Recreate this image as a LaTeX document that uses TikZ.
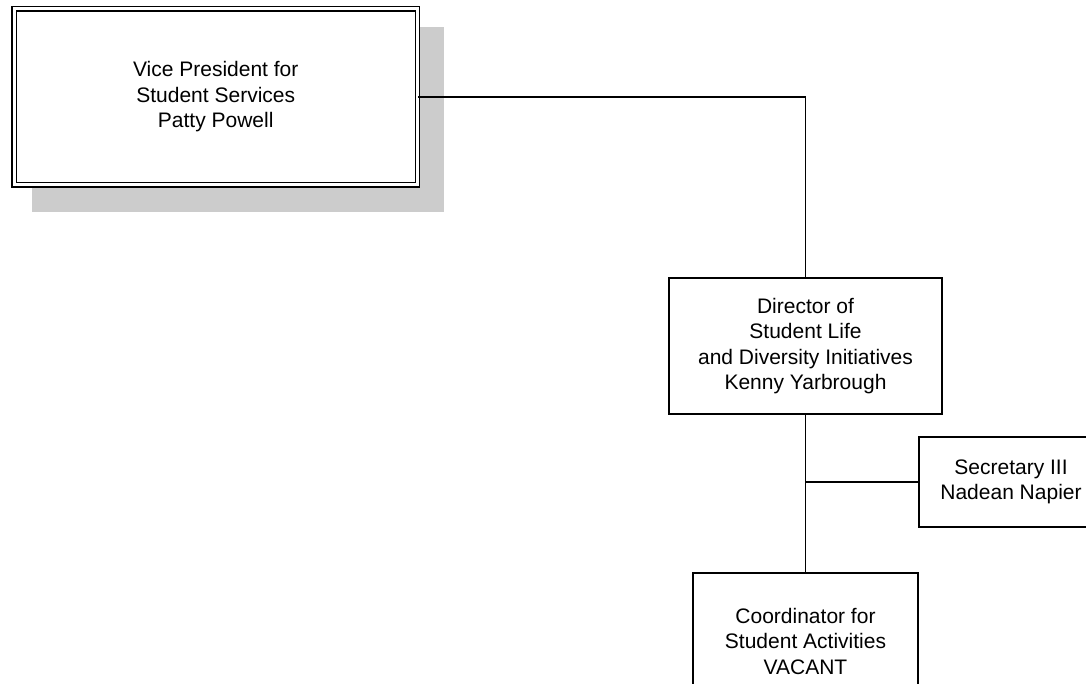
\documentclass[tikz,border=0pt]{standalone}
\usepackage{fontspec}
\setmainfont{Liberation Sans}
\usetikzlibrary{backgrounds}
\definecolor{shadowgray}{HTML}{CCCCCC}

\begin{document}
\begin{tikzpicture}[x=1pt,y=-1pt,
  orgbox/.style={draw=black,line width=1.2pt,fill=white,align=center,inner sep=0pt,font=\fontsize{21}{25.5}\selectfont},
  orgline/.style={draw=black,line width=1.2pt}]
\useasboundingbox (0,0) rectangle (1086,684);
\clip (0,0) rectangle (1086,684);
% top of the chart
\node[orgbox,double,line width=1.4pt,double distance=3pt,minimum width=403.5pt,minimum height=176pt]
  (vp) at (215.75,97) {Vice President for\\Student Services\\Patty Powell};
\node[orgbox,minimum width=273pt,minimum height=136pt] (dir) at (805.5,346) {Director of\\Student Life\\and Diversity Initiatives\\Kenny Yarbrough};
\node[orgbox,minimum width=184pt,minimum height=90pt] (sec) at (1011,482) {Secretary III\\Nadean Napier};
\node[orgbox,minimum width=225pt,minimum height=136pt] (coord) at (805.5,641) {Coordinator for\\Student Activities\\VACANT};
% shadow behind the top box
\begin{scope}[on background layer]
\fill[shadowgray] ([shift={(19,19)}]vp.north west) rectangle ([shift={(25.5,26)}]vp.south east);
\end{scope}
% connectors
\draw[orgline] (vp.east) -| (dir.north);
\draw[orgline] (dir.south) -- (coord.north);
\draw[orgline] (sec.west) -- (sec.west -| dir.south);
\end{tikzpicture}
\end{document}
